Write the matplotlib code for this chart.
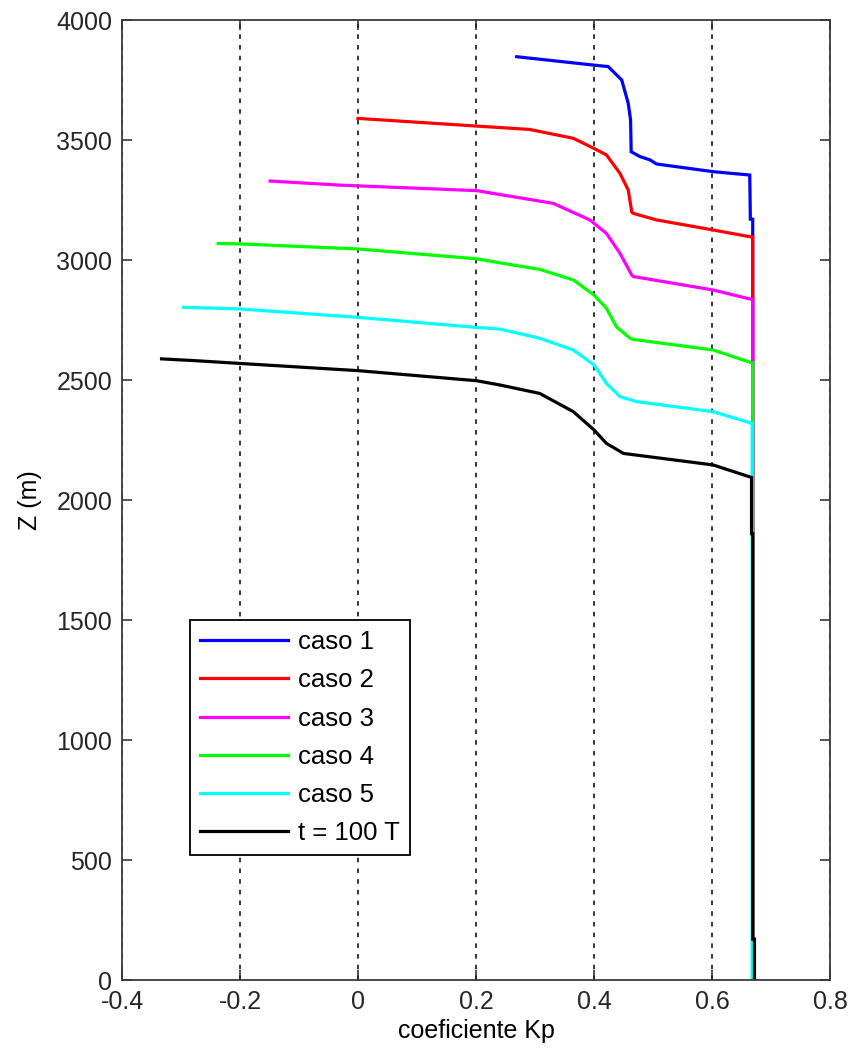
import matplotlib
matplotlib.use("Agg")
import matplotlib.pyplot as plt

plt.rcParams['font.family'] = ['Liberation Sans', 'DejaVu Sans']

# caso 1
kp1 = [0.269, 0.400, 0.424, 0.447, 0.458, 0.462, 0.463, 0.478, 0.495, 0.506, 0.602, 0.664, 0.665, 0.669, 0.669]
z1 = [3847, 3812, 3806, 3750, 3653, 3583, 3451, 3431, 3417, 3400, 3368, 3354, 3170, 3170, 0]
# caso 2
kp2 = [0.0, 0.201, 0.291, 0.365, 0.400, 0.421, 0.444, 0.458, 0.464, 0.467, 0.506, 0.602, 0.664, 0.669, 0.669]
z2 = [3590, 3558, 3544, 3507, 3465, 3438, 3361, 3292, 3200, 3194, 3167, 3125, 3097, 3097, 0]
# caso 3
kp3 = [-0.149, -0.031, 0.201, 0.331, 0.393, 0.421, 0.444, 0.464, 0.467, 0.602, 0.667, 0.669, 0.669]
z3 = [3329, 3312, 3289, 3236, 3167, 3111, 3028, 2937, 2931, 2875, 2836, 2836, 0]
# caso 4
kp4 = [-0.237, -0.2, 0.0, 0.201, 0.241, 0.308, 0.365, 0.400, 0.421, 0.438, 0.461, 0.467, 0.602, 0.667, 0.669, 0.669]
z4 = [3069, 3067, 3046, 3005, 2988, 2961, 2917, 2854, 2799, 2722, 2674, 2669, 2625, 2572, 2572, 0]
# caso 5
kp5 = [-0.296, -0.2, 0.0, 0.201, 0.241, 0.308, 0.365, 0.400, 0.421, 0.444, 0.472, 0.602, 0.667, 0.668, 0.668]
z5 = [2803, 2796, 2761, 2719, 2712, 2674, 2625, 2563, 2486, 2431, 2410, 2368, 2320, 2320, 0]
# t = 100 T
kp6 = [-0.333, -0.279, -0.2, 0.0, 0.201, 0.241, 0.308, 0.365, 0.400, 0.421, 0.450, 0.602, 0.667, 0.667, 0.669, 0.669, 0.672, 0.672]
z6 = [2588, 2581, 2569, 2539, 2497, 2479, 2444, 2368, 2292, 2236, 2194, 2146, 2094, 1860, 1860, 170, 170, 0]

labels = ['caso 1', 'caso 2', 'caso 3', 'caso 4', 'caso 5', 't = 100 T']
colors = ['#0000ff', '#ff0000', '#ff00ff', '#00ff00', '#00ffff', '#000000']
xticks = [-0.4, -0.2, 0, 0.2, 0.4, 0.6, 0.8]
xticklabels = ['-0.4', '-0.2', '0', '0.2', '0.4', '0.6', '0.8']
yticks = [0, 500, 1000, 1500, 2000, 2500, 3000, 3500, 4000]

fig = plt.figure(figsize=(8.5, 10.53), dpi=100)
ax = fig.add_axes([122/850, 1 - 980/1053, 708/850, 960/1053])

series = [(kp1, z1), (kp2, z2), (kp3, z3), (kp4, z4), (kp5, z5), (kp6, z6)]
for (kx, kz), lab, col in zip(series, labels, colors):
    ax.plot(kx, kz, color=col, lw=2.3, label=lab, solid_joinstyle='miter')

ax.set_xlim(-0.4, 0.8)
ax.set_ylim(0, 4000)
ax.set_xticks(xticks)
ax.set_xticklabels(xticklabels)
ax.set_yticks(yticks)
ax.xaxis.grid(True, linestyle=(0, (3, 4)), color='black', lw=1.1)
ax.tick_params(direction='in', length=7, width=1.1, top=True, right=True,
               labelsize=18, pad=7, colors='#262626')
for s in ax.spines.values():
    s.set_color('#3a3a3a')
    s.set_linewidth(1.3)

ax.set_xlabel('coeficiente Kp', fontsize=18, labelpad=4)
ax.set_ylabel('Z (m)', fontsize=18, labelpad=10)

leg = ax.legend(loc='lower left', bbox_to_anchor=(0.096, 0.130), borderaxespad=0,
                fontsize=18.5, handlelength=3.4, handletextpad=0.4, labelspacing=0.55,
                fancybox=False, framealpha=1, edgecolor='black', borderpad=0.4)
leg.get_frame().set_linewidth(1.3)

fig.savefig('out.png', dpi=100)
